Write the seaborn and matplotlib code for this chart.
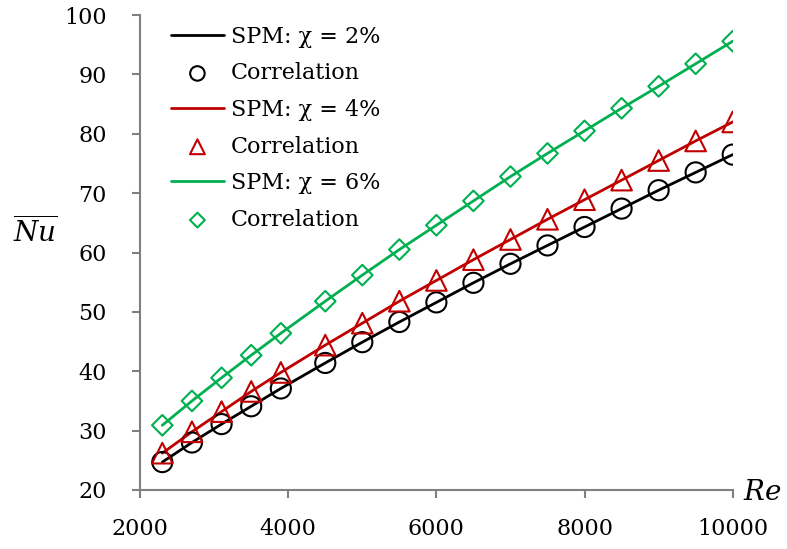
import matplotlib
matplotlib.use("Agg")
import matplotlib.pyplot as plt
import seaborn as sns
import numpy as np

re_vals = [2300, 2700, 3100, 3500, 3900, 4500, 5000, 5500, 6000, 6500, 7000, 7500, 8000, 8500, 9000, 9500, 10000]
nu_2 = [24.7, 28.0, 31.1, 34.1, 37.1, 41.4, 44.9, 48.3, 51.6, 54.9, 58.1, 61.2, 64.3, 67.4, 70.5, 73.5, 76.5]
nu_4 = [26.2, 29.8, 33.2, 36.6, 39.8, 44.4, 48.1, 51.8, 55.3, 58.8, 62.2, 65.6, 68.9, 72.2, 75.5, 78.8, 82.0]
nu_6 = [30.9, 35.0, 38.9, 42.7, 46.4, 51.8, 56.2, 60.5, 64.6, 68.7, 72.8, 76.7, 80.5, 84.3, 88.0, 91.8, 95.6]
labels = ["SPM: χ = 2%", "SPM: χ = 4%", "SPM: χ = 6%"]
corr_label = "Correlation"
xticks = [2000, 4000, 6000, 8000, 10000]
yticks = [20, 30, 40, 50, 60, 70, 80, 90, 100]

sns.set_style("white")
plt.rcParams['font.family'] = ['DejaVu Serif']
plt.rcParams['mathtext.fontset'] = 'dejavuserif'
plt.rcParams['text.color'] = 'black'
plt.rcParams['xtick.color'] = 'black'
plt.rcParams['ytick.color'] = 'black'

fig = plt.figure(figsize=(7.87, 5.49), dpi=100)
ax = fig.add_axes([0.178, 0.1075, 0.753, 0.865])

colors = ["#000000", "#C00000", "#00B050"]
markers = ["o", "^", "D"]
sizes = [210, 220, 110]
series = [nu_2, nu_4, nu_6]
handles = []
for ys, c, m, s, lab in zip(series, colors, markers, sizes, labels):
    sns.lineplot(x=re_vals, y=ys, color=c, lw=2, ax=ax, label=lab, zorder=2)
    hl = ax.lines[-1]
    sns.scatterplot(x=re_vals, y=ys, marker=m, s=s, facecolor='none', edgecolor=c,
                    linewidth=1.5, ax=ax, label=corr_label, zorder=3)
    hs = ax.collections[-1]
    handles += [hl, hs]

ax.set_xlim(2000, 10000)
ax.set_ylim(20, 100)
ax.set_xticks(xticks)
ax.set_yticks(yticks)
ax.tick_params(axis='both', which='major', bottom=True, left=True, labelsize=16,
               direction='out', length=6, color='#808080', width=1.5, labelcolor='black')
ax.tick_params(axis='x', pad=14)
ax.tick_params(axis='y', pad=18)
for sp in ['top', 'right']:
    ax.spines[sp].set_visible(False)
for sp in ['left', 'bottom']:
    ax.spines[sp].set_color('#808080')
    ax.spines[sp].set_linewidth(1.5)

leg = ax.legend(handles=handles, labels=[labels[0], corr_label, labels[1], corr_label, labels[2], corr_label],
                loc='upper left', bbox_to_anchor=(0.018, 1.02), frameon=False, fontsize=16,
                handlelength=2.4, handletextpad=0.3, labelspacing=0.66, markerscale=0.72)
for t in leg.get_texts():
    t.set_color('black')

fig.text(35 / 787, 1 - 232 / 549, r'$\overline{Nu}$', fontsize=20, ha='center', va='center')
fig.text(762 / 787, 1 - 492 / 549, r'$Re$', fontsize=20, ha='center', va='center')

fig.savefig("out.png", dpi=100)
